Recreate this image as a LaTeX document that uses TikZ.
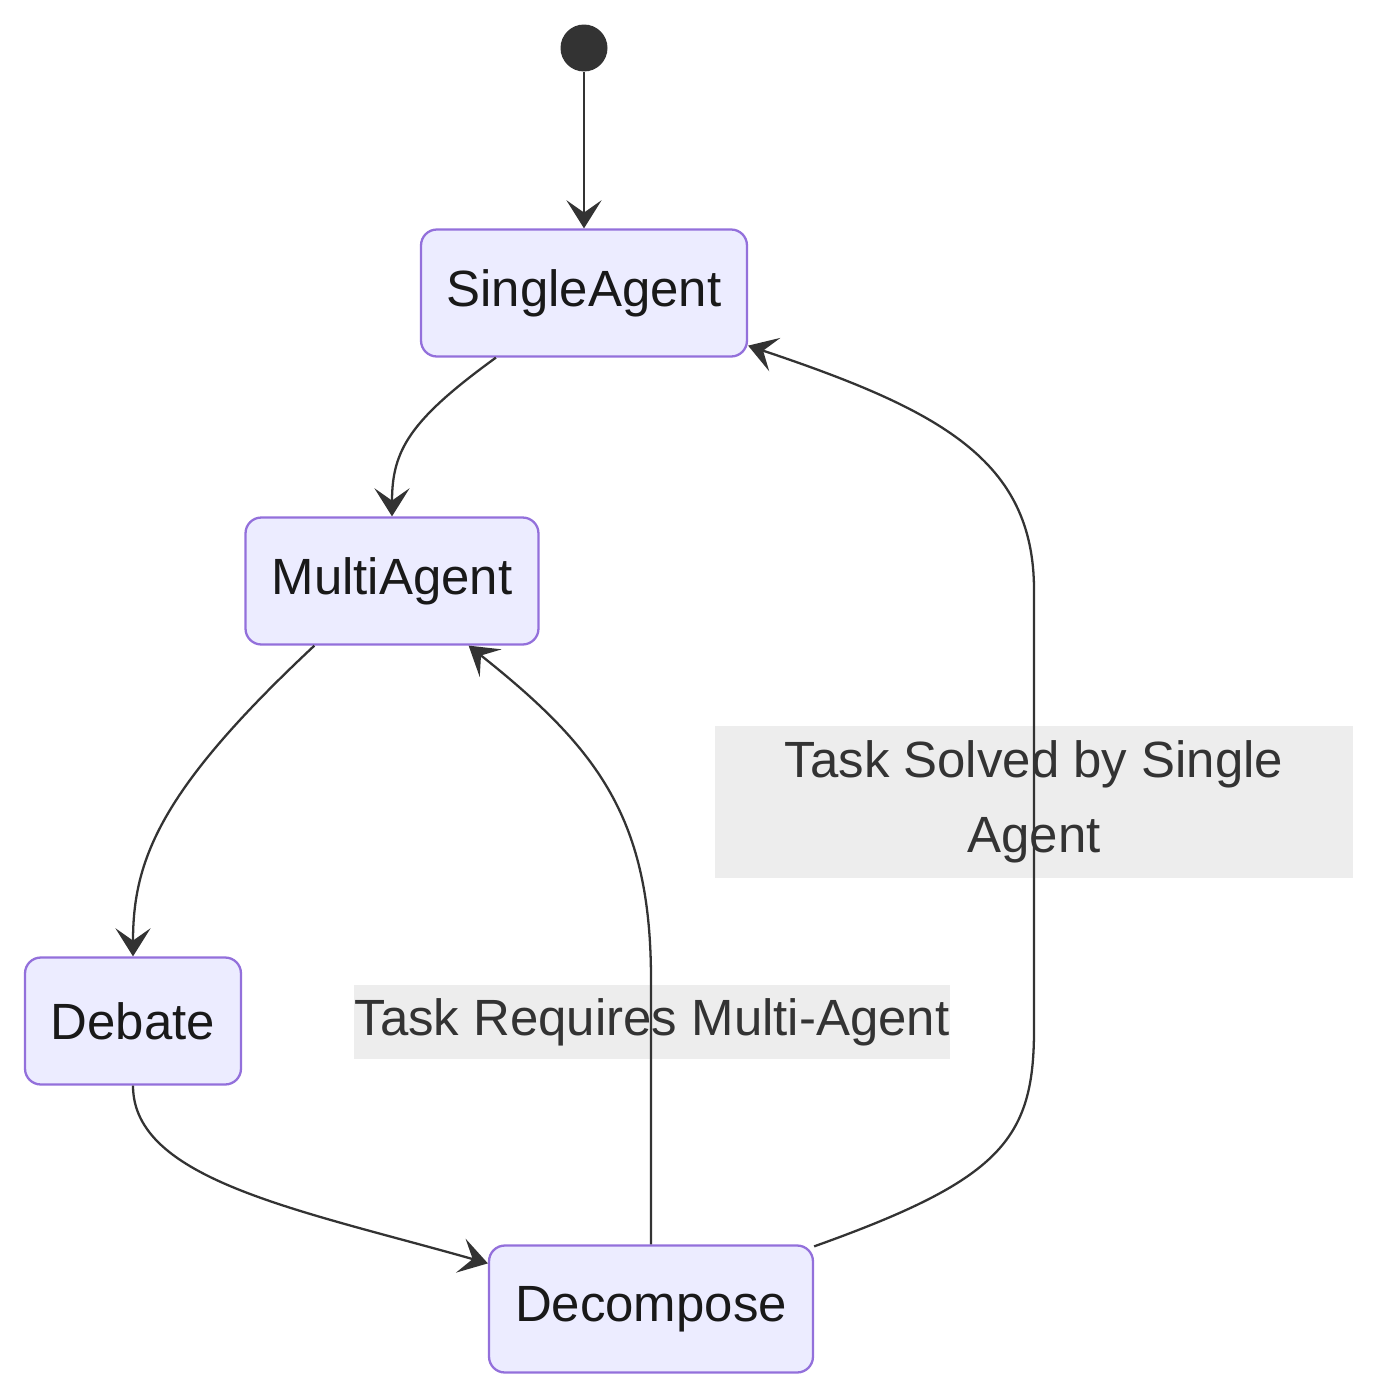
\documentclass[tikz,border=0pt]{standalone}
\usepackage{fontspec}
\setmainfont{Liberation Sans}
\usetikzlibrary{arrows.meta}
\definecolor{stfill}{HTML}{ECECFF}
\definecolor{stline}{HTML}{9370DB}
\definecolor{edge}{HTML}{333333}
\definecolor{lblbg}{HTML}{EDEDED}
\tikzset{
  state/.style={draw=stline, fill=stfill, line width=1.3pt, rounded corners=9pt,
    minimum height=2.54cm, inner sep=0pt, font=\fontsize{29}{35}\selectfont, text=black!90},
  lbl/.style={fill=lblbg, inner sep=0pt, text=edge, font=\fontsize{29}{43}\selectfont, align=center},
  tr/.style={draw=edge, line width=1.3pt, -{Stealth[length=16pt,width=20pt,inset=7pt]}},
  ln/.style={draw=edge, line width=1.3pt}
}
\begin{document}
\begin{tikzpicture}[x=0.02cm,y=-0.02cm]
  \useasboundingbox (0,0) rectangle (1380,1399);

  % Zustaende
  \node[circle, fill=edge, minimum size=0.94cm, inner sep=0pt] (start) at (584,48) {};
  \node[state, minimum width=6.52cm] (single) at (584,293) {SingleAgent};
  \node[state, minimum width=5.86cm] (multi) at (392,581) {MultiAgent};
  \node[state, minimum width=4.32cm] (debate) at (133,1021) {Debate};
  \node[state, minimum width=6.48cm] (decomp) at (651,1309) {Decompose};

  % Beschriftungen
  \node[lbl, minimum width=12.78cm, minimum height=3.04cm] (lsolved) at (1034,802) {Task Solved by Single\\Agent};
  \node[lbl, minimum width=11.92cm, minimum height=1.48cm] (lreq) at (652,1022) {Task Requires Multi-Agent};

  % Uebergaenge
  \draw[tr] (start) -- (single);
  \draw[tr] ([xshift=1.52cm]single.south west) .. controls (410,420) and (392,450) .. (multi.north);
  \draw[tr] ([xshift=1.4cm]multi.south west) .. controls (160,790) and (133,860) .. (debate.north);
  \draw[tr] (debate.south) .. controls (133,1180) and (300,1210) .. ([yshift=-0.38cm]decomp.north west);
  \draw[tr] (decomp.north) -- (651,980) .. controls (651,820) and (600,750) .. ([xshift=-1.42cm]multi.south east);
  \draw[tr] ([yshift=-0.04cm]decomp.north east) .. controls (1000,1180) and (1034,1140) .. (1034,1030)
    -- (1034,590) .. controls (1034,460) and (940,410) .. ([yshift=0.24cm]single.south east);
\end{tikzpicture}
\end{document}
